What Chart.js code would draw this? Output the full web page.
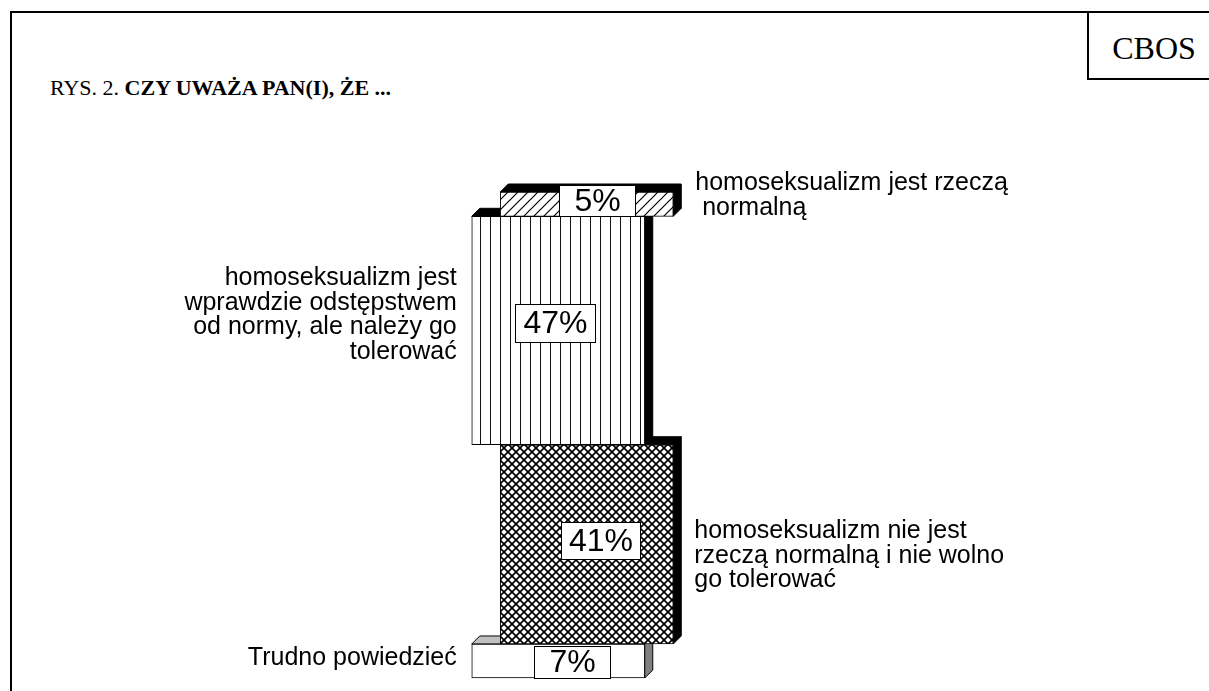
<!DOCTYPE html>
<html lang="pl">
<head>
<meta charset="utf-8">
<title>CBOS - Rys. 2</title>
<script src="https://cdn.jsdelivr.net/npm/chart.js@4.4.1/dist/chart.umd.min.js"></script>
<style>
  html, body { margin: 0; padding: 0; background: #fff; overflow: hidden; }
  #page { position: relative; width: 1209px; height: 691px; overflow: hidden; }
  #frame { position: absolute; left: 10px; top: 11px; width: 1300px; height: 800px; border: 2px solid #000; }
  #logo { position: absolute; left: 1087px; top: 11px; width: 130px; height: 65px; border: 2px solid #000;
          font: 32px "Liberation Serif", "Times New Roman", serif; line-height: 70px; text-align: center; }
  #title { position: absolute; left: 50px; top: 77px; font: 22px "Liberation Serif", "Times New Roman", serif;
           line-height: 22px; white-space: nowrap; }
  #chartBox { position: absolute; left: 0; top: 0; width: 1209px; height: 691px; }
</style>
</head>
<body>
<div id="page">
  <div id="frame"></div>
  <div id="logo">CBOS</div>
  <div id="title">RYS. 2. <b>CZY UWAŻA PAN(I), ŻE ...</b></div>
  <div id="chartBox"><canvas id="chart"></canvas></div>
</div>
<script>
(function () {
    'use strict';

    // ── Dane (od góry słupka do dołu) ────────────────────────
    var CATEGORIES = [
        ['homoseksualizm jest rzeczą', ' normalną'],
        ['homoseksualizm jest', 'wprawdzie odstępstwem', 'od normy, ale należy go', 'tolerować'],
        ['homoseksualizm nie jest', 'rzeczą normalną i nie wolno', 'go tolerować'],
        ['Trudno powiedzieć']
    ];
    var VALUES = [5, 47, 41, 7];
    var VALUE_LABELS = ['5%', '47%', '41%', '7%'];
    var COLUMNS = ['prawa', 'lewa', 'prawa', 'lewa'];
    var X_LABELS = ['lewa', 'prawa'];

    // ── Wygląd ───────────────────────────────────────────────
    var DEPTH = 8;
    var FONT = '"Liberation Sans", Arial, sans-serif';
    var TOP_COLORS = ['#000', '#000', '#000', '#c0c0c0'];
    var SIDE_COLORS = ['#000', '#000', '#000', '#808080'];
    // położenie podpisów: strona, odstęp od słupka, linia bazowa pierwszego wiersza
    var TEXT_POS = [
        { side: 'right', gap: 22, y: 190 },
        { side: 'left', gap: 15, y: 285 },
        { side: 'right', gap: 21, y: 538 },
        { side: 'left', gap: 15, y: 665 }
    ];
    // ramki z wartościami: przesunięcie od środka ściany i rozmiar
    var BOXES = [
        { dx: 10, dy: -4, w: 76, h: 31 },
        { dx: -3, dy: -8, w: 80, h: 38 },
        { dx: 14, dy: -4, w: 79, h: 37 },
        { dx: 14, dy: 1, w: 76, h: 32 }
    ];

    function makePattern(size, draw) {
        var c = document.createElement('canvas');
        c.width = size;
        c.height = size;
        var g = c.getContext('2d');
        g.fillStyle = '#fff';
        g.fillRect(0, 0, size, size);
        g.strokeStyle = '#000';
        draw(g, size);
        return g.createPattern(c, 'repeat');
    }

    var diagonal = makePattern(10, function (g, s) {
        g.lineWidth = 1.2;
        g.beginPath();
        g.moveTo(-1, s + 1); g.lineTo(s + 1, -1);
        g.moveTo(-s / 2, s / 2); g.lineTo(s / 2, -s / 2);
        g.moveTo(s / 2, s * 1.5); g.lineTo(s * 1.5, s / 2);
        g.stroke();
    });
    var vertical = makePattern(10, function (g, s) {
        g.strokeStyle = '#111';
        g.lineWidth = 1;
        g.beginPath();
        g.moveTo(0.5, 0); g.lineTo(0.5, s);
        g.stroke();
    });
    var cross = makePattern(8, function (g, s) {
        g.lineWidth = 1.7;
        g.beginPath();
        g.moveTo(0, 0); g.lineTo(s, s);
        g.moveTo(0, s); g.lineTo(s, 0);
        g.stroke();
    });
    var FILLS = [diagonal, vertical, cross, '#fff'];

    function faceOf(el) {
        var p = el.getProps(['x', 'y', 'base', 'width'], true);
        return {
            left: p.x - p.width / 2, right: p.x + p.width / 2,
            top: Math.min(p.y, p.base), bottom: Math.max(p.y, p.base),
            cx: p.x, cy: (p.y + p.base) / 2
        };
    }

    function poly(ctx, pts, fill) {
        ctx.beginPath();
        ctx.moveTo(pts[0][0], pts[0][1]);
        for (var i = 1; i < pts.length; i++) ctx.lineTo(pts[i][0], pts[i][1]);
        ctx.closePath();
        ctx.fillStyle = fill;
        ctx.fill();
        ctx.strokeStyle = '#000';
        ctx.lineWidth = 1;
        ctx.stroke();
    }

    // ścianki 3D rysowane przed każdym słupkiem, ramki i podpisy na końcu
    var depthPlugin = {
        id: 'depth3d',
        beforeDatasetDraw: function (chart, args) {
            var i = args.index;
            var ctx = chart.ctx;
            args.meta.data.forEach(function (el) {
                var f = faceOf(el);
                ctx.save();
                poly(ctx, [[f.right, f.top], [f.right + DEPTH, f.top - DEPTH],
                           [f.right + DEPTH, f.bottom - DEPTH], [f.right, f.bottom]], SIDE_COLORS[i]);
                poly(ctx, [[f.left, f.top], [f.left + DEPTH, f.top - DEPTH],
                           [f.right + DEPTH, f.top - DEPTH], [f.right, f.top]], TOP_COLORS[i]);
                ctx.restore();
            });
        },
        afterDatasetsDraw: function (chart) {
            var ctx = chart.ctx;
            ctx.save();
            chart.data.datasets.forEach(function (ds, i) {
                var meta = chart.getDatasetMeta(i);
                meta.data.forEach(function (el) {
                    var f = faceOf(el);
                    var b = BOXES[i];
                    var bx = Math.round(f.cx + b.dx - b.w / 2) + 0.5;
                    var by = Math.round(f.cy + b.dy - b.h / 2) + 0.5;
                    ctx.fillStyle = '#fff';
                    ctx.fillRect(bx, by, b.w, b.h);
                    ctx.strokeStyle = '#000';
                    ctx.lineWidth = 1;
                    ctx.strokeRect(bx, by, b.w, b.h);
                    ctx.fillStyle = '#000';
                    ctx.font = '32px ' + FONT;
                    ctx.textAlign = 'center';
                    ctx.textBaseline = 'middle';
                    ctx.fillText(VALUE_LABELS[i], bx + b.w / 2, by + b.h / 2 + 1);

                    // podpis kategorii
                    var t = TEXT_POS[i];
                    ctx.font = '25px ' + FONT;
                    ctx.textBaseline = 'alphabetic';
                    ctx.textAlign = t.side === 'left' ? 'right' : 'left';
                    var tx = t.side === 'left' ? f.left - t.gap : f.right + t.gap;
                    CATEGORIES[i].forEach(function (line, k) {
                        ctx.fillText(line, tx, t.y + k * 24.5);
                    });
                });
            });
            ctx.restore();
        }
    };

    // zakresy segmentów liczone od góry (100%) w dół
    var topValue = 100;
    var datasets = VALUES.map(function (v, i) {
        var range = [topValue - v, topValue];
        topValue -= v;
        return {
            label: CATEGORIES[i].join(' '),
            data: [{ x: COLUMNS[i], y: range }],
            backgroundColor: FILLS[i],
            borderColor: '#000',
            borderWidth: 1,
            borderSkipped: false,
            grouped: false,
            barThickness: 173,
            clip: false
        };
    });

    new Chart(document.getElementById('chart'), {
        type: 'bar',
        data: { labels: X_LABELS, datasets: datasets },
        options: {
            responsive: true,
            maintainAspectRatio: false,
            animation: false,
            events: [],
            layout: { padding: { left: 544, right: 608, top: 192, bottom: 13 } },
            plugins: {
                legend: { display: false },
                title: { display: false },
                tooltip: { enabled: false }
            },
            scales: {
                x: { display: false },
                y: { display: false, min: 0, max: 100 }
            }
        },
        plugins: [depthPlugin]
    });
})();
</script>
</body>
</html>
